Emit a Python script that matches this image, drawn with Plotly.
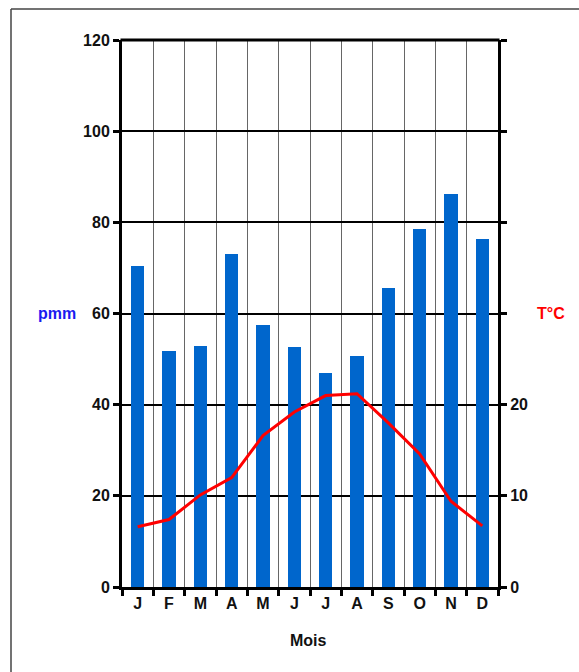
import plotly.graph_objects as go

months = ["J", "F", "M", "A", "M", "J", "J", "A", "S", "O", "N", "D"]
precip = [70.4, 51.8, 52.9, 73.1, 57.5, 52.7, 46.9, 50.7, 65.6, 78.5, 86.2, 76.4]
temp = [6.6, 7.4, 10.1, 12.0, 16.6, 19.2, 21.0, 21.2, 18.0, 14.6, 9.4, 6.7]
left_ticks = [0, 20, 40, 60, 80, 100, 120]
right_ticks = [0, 10, 20, 30, 40, 50, 60]
right_ticktext = ["0", "10", "20", "", "", "", ""]

x = list(range(len(months)))
W, H = 579, 672
L, T = 122, 40
R = W - 498
B = H - 587
pw, ph = W - L - R, H - T - B

FAM = "Liberation Sans, Arial, sans-serif"
tfont = dict(family=FAM, size=16, color="#111111", weight="bold")

fig = go.Figure()
fig.add_trace(go.Bar(x=x, y=precip, width=0.42, marker=dict(color="#0066CC", line=dict(width=0)),
                     yaxis="y", showlegend=False))
fig.add_trace(go.Scatter(x=x, y=temp, mode="lines", line=dict(color="#FF0000", width=3),
                         yaxis="y2", showlegend=False))

fig.update_layout(
    width=W, height=H,
    margin=dict(l=L, r=R, t=T, b=B, pad=0),
    paper_bgcolor="white", plot_bgcolor="white",
    font=dict(family=FAM, size=16, color="#111111"),
    bargap=0,
    xaxis=dict(
        range=[-0.5, 11.5], tickmode="array", tickvals=x, ticktext=months,
        ticks="", showgrid=False, zeroline=False,
        showline=True, linecolor="black", linewidth=3,
        tickfont=tfont,
        minor=dict(tickmode="linear", tick0=0.5, dtick=1, showgrid=True, gridcolor="#666666",
                   gridwidth=1.2, ticks="outside", ticklen=6, tickwidth=3, tickcolor="black"),
    ),
    yaxis=dict(
        range=[0, 120], tickmode="array", tickvals=left_ticks,
        showgrid=True, gridcolor="black", gridwidth=1.6, zeroline=False,
        showline=True, linecolor="black", linewidth=3,
        ticks="outside", ticklen=6, tickwidth=3, tickcolor="black",
        tickfont=tfont,
    ),
    yaxis2=dict(
        range=[0, 60], overlaying="y", side="right", tickmode="array",
        tickvals=right_ticks, ticktext=right_ticktext,
        showgrid=False, zeroline=False,
        showline=True, linecolor="black", linewidth=3,
        ticks="outside", ticklen=6, tickwidth=3, tickcolor="black",
        tickfont=tfont,
    ),
)

# top border of plot area
fig.add_shape(type="line", xref="paper", yref="paper", x0=-0.004, x1=1.004, y0=1, y1=1,
              line=dict(color="black", width=3))
# outer frame (left & top)
fx = (11 - L) / pw
fy = 1 + (T - 9) / ph
fig.add_shape(type="line", xref="paper", yref="paper", x0=fx, x1=fx, y0=fy, y1=-0.3,
              line=dict(color="#444444", width=1.5))
fig.add_shape(type="line", xref="paper", yref="paper", x0=fx, x1=1.4, y0=fy, y1=fy,
              line=dict(color="#444444", width=1.5))

fig.add_annotation(text="pmm", xref="paper", yref="paper", xanchor="center", yanchor="middle",
                   x=(57 - L) / pw, y=1 - (313 - T) / ph, showarrow=False,
                   font=dict(family=FAM, size=16, color="#1A1AF0", weight="bold"))
fig.add_annotation(text="T°C", xref="paper", yref="paper", xanchor="center", yanchor="middle",
                   x=(551 - L) / pw, y=1 - (313 - T) / ph, showarrow=False,
                   font=dict(family=FAM, size=16, color="#FF0000", weight="bold"))
fig.add_annotation(text="Mois", xref="paper", yref="paper", xanchor="center", yanchor="middle",
                   x=(308 - L) / pw, y=1 - (640 - T) / ph, showarrow=False,
                   font=dict(family=FAM, size=16, color="#111111", weight="bold"))

fig.write_html("out.html", config={"displayModeBar": False},
               post_script="document.body.style.margin='0px';document.body.style.overflow='hidden';")
